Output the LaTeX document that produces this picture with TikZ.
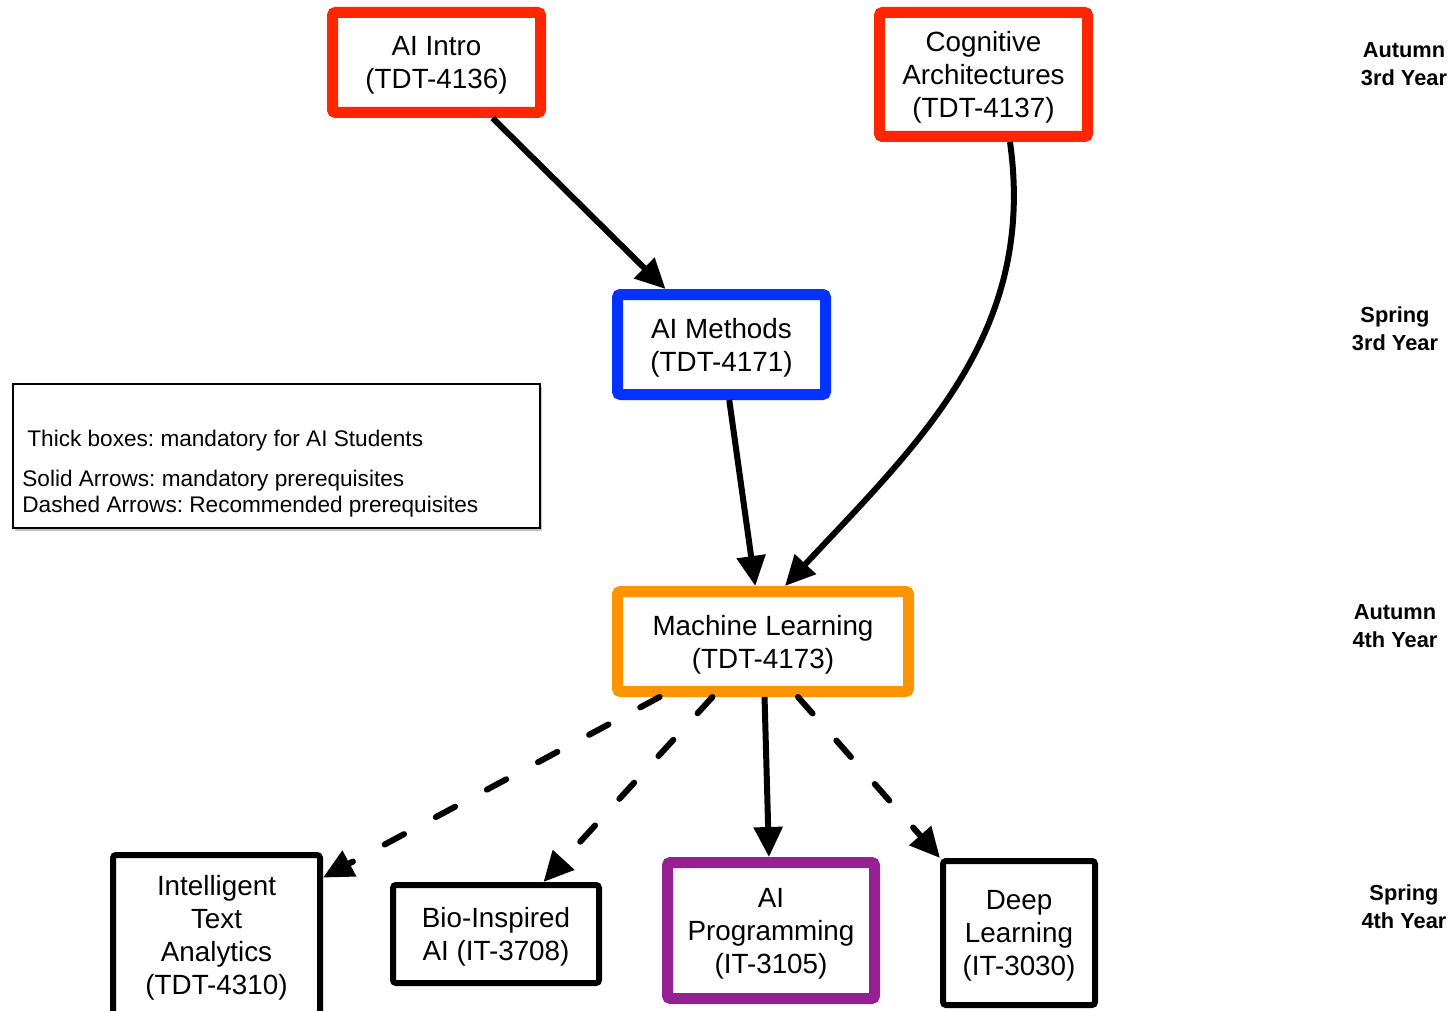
\documentclass[tikz,border=0pt]{standalone}
\usepackage{fontspec}
\setmainfont{Liberation Sans}
\usetikzlibrary{arrows.meta,shadows}

\definecolor{introred}{HTML}{FF2600}
\definecolor{methblue}{HTML}{0433FF}
\definecolor{mlorange}{HTML}{FF9300}
\definecolor{progplum}{HTML}{942192}

\frenchspacing
\begin{document}
\begin{tikzpicture}[x=0.5pt,y=0.5pt,
  course/.style={draw, fill=white, line width=3pt, rounded corners=1.5pt, align=center, inner sep=0pt,
    text depth=0pt, font=\fontsize{13.9}{16.5}\selectfont},
  core/.style={course, line width=5.5pt},
  req/.style={line width=3pt, -{Triangle[length=15pt,width=14pt]}},
  rec/.style={req, line cap=round, dash pattern=on 11pt off 18pt},
  note/.style={anchor=base west, inner sep=0pt, font=\fontsize{11.3}{13}\selectfont},
  term/.style={align=center, inner sep=0pt, font=\fontsize{10.9}{14}\selectfont\bfseries}]
\useasboundingbox (0,0) rectangle (1452,-1011);

% courses
\node[core, draw=introred, minimum width=104pt, minimum height=50pt] (intro) at (436.5,-62.5) {AI Intro\\(TDT-4136)};
\node[core, draw=introred, minimum width=104pt, minimum height=62pt] (cogn) at (983.5,-74.5) {Cognitive\\Architectures\\(TDT-4137)};
\node[core, draw=methblue, minimum width=104pt, minimum height=50pt] (methods) at (721.5,-344.5) {AI Methods\\(TDT-4171)};
\node[core, draw=mlorange, minimum width=145.5pt, minimum height=50pt] (ml) at (763,-641.5) {Machine Learning\\(TDT-4173)};
\node[course, minimum width=103.5pt, minimum height=79.5pt] (ita) at (216.5,-934.5) {Intelligent\\Text\\Analytics\\(TDT-4310)};
\node[course, minimum width=103pt, minimum height=49pt] (bio) at (496,-934) {Bio-Inspired\\AI (IT-3708)};
\node[core, draw=progplum, minimum width=103.5pt, minimum height=68pt] (prog) at (771,-930.5) {AI\\Programming\\(IT-3105)};
\node[course, minimum width=76pt, minimum height=72pt] (deep) at (1019,-933) {Deep\\Learning\\(IT-3030)};

% legend
\node[draw, fill=white, line width=1pt, minimum width=263.5pt, minimum height=72pt,
  drop shadow={shadow xshift=1pt, shadow yshift=-1.5pt, fill=black!45}] (legend) at (276.5,-456) {};
\node[note] (thick) at (27,-446) {Thick boxes: mandatory for AI Students};
\node[note] (solid) at (22,-486) {Solid Arrows: mandatory prerequisites};
\node[note] (dashed) at (22,-512) {Dashed Arrows: Recommended prerequisites};

% terms
\node[term] (aut3) at (1404,-64) {Autumn\\3rd Year};
\node[term] (spr3) at (1395,-329) {Spring\\3rd Year};
\node[term] (aut4) at (1395,-626) {Autumn\\4th Year};
\node[term] (spr4) at (1404,-907) {Spring\\4th Year};

% prerequisites
\draw[req] (intro) -- (methods);
\draw[req] (methods) -- (ml);
\draw[req] ([xshift=13.25pt]cogn.south) to[out=-82,in=47] ([xshift=11pt]ml.north);
\draw[rec] (ml) -- (ita);
\draw[rec] (ml) -- (bio);
\draw[req] (ml) -- (prog);
\draw[rec] ([xshift=17.5pt]ml.south) -- (deep.north west);
\end{tikzpicture}
\end{document}
